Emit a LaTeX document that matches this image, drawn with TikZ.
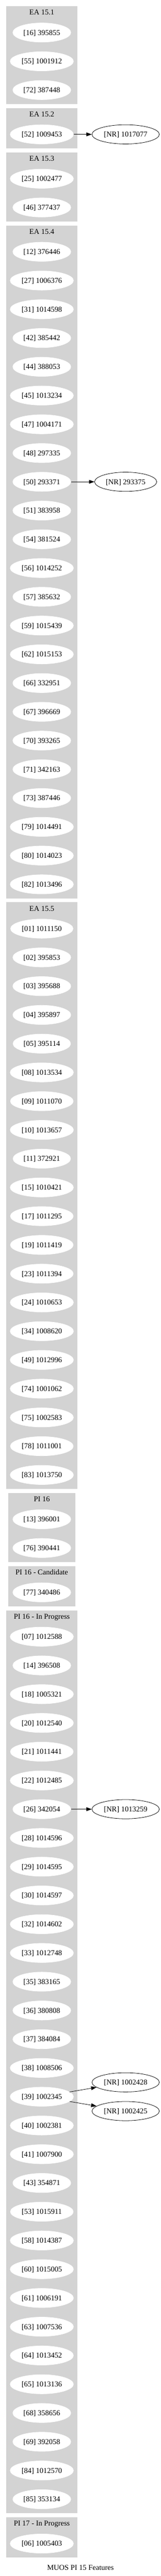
\documentclass[tikz,border=0pt]{standalone}
\usepackage{fontspec}
\setmainfont{Liberation Serif}
\usetikzlibrary{shapes.geometric,arrows.meta}
\definecolor{clustergray}{RGB}{211,211,211}
\begin{document}
\begin{tikzpicture}[x=0.75pt,y=-0.74967pt,
  clusterbg/.style={fill=clustergray},
  clusterlabel/.style={font=\fontsize{14pt}{16pt}\selectfont,text height=9.4pt,text depth=0pt,inner sep=0pt},
  feat/.style={ellipse,fill=white,draw=white,line width=0.75pt,font=\fontsize{14pt}{16pt}\selectfont,text height=9.4pt,text depth=0pt,inner xsep=4pt,inner ysep=0pt,minimum height=36pt},
  nrnode/.style={feat,fill=none,draw=black},
  link/.style={draw=black,line width=0.75pt,-{Triangle[length=10pt,width=7pt]}}]

\path[use as bounding box,fill=white] (0,0) rectangle (402,6450.8);

% EA 15.1
\fill[clusterbg] (15,15.5) rectangle (194,260.5);
\node[clusterlabel] (l151) at (104.5,31) {EA 15.1};
\foreach \id/\num [count=\k from 0] in {16/395855,55/1001912,72/387448}
  \node[feat] (n\id) at (104.5,{81.5+72*\k}) {[\id] \num};

% EA 15.2
\fill[clusterbg] (15,270.5) rectangle (194,371.5);
\node[clusterlabel] (l152) at (104.5,286) {EA 15.2};
\node[feat] (n52) at (104.5,336.5) {[52] 1009453};

% EA 15.3
\fill[clusterbg] (15,381.5) rectangle (194,554.5);
\node[clusterlabel] (l153) at (104.5,397) {EA 15.3};
\foreach \id/\num [count=\k from 0] in {25/1002477,46/377437}
  \node[feat] (n\id) at (104.5,{447.5+72*\k}) {[\id] \num};

% EA 15.4
\fill[clusterbg] (15,564.5) rectangle (194,2249.5);
\node[clusterlabel] (l154) at (104.5,580) {EA 15.4};
\foreach \id/\num [count=\k from 0] in {12/376446,27/1006376,31/1014598,42/385442,44/388053,45/1013234,47/1004171,48/297335,50/293371,51/383958,54/381524,56/1014252,57/385632,59/1015439,62/1015153,66/332951,67/396669,70/393265,71/342163,73/387446,79/1014491,80/1014023,82/1013496}
  \node[feat] (n\id) at (104.5,{630.5+72*\k}) {[\id] \num};

% EA 15.5
\fill[clusterbg] (15,2259.5) rectangle (194,3728.5);
\node[clusterlabel] (l155) at (104.5,2275) {EA 15.5};
\foreach \id/\num [count=\k from 0] in {01/1011150,02/395853,03/395688,04/395897,05/395114,08/1013534,09/1011070,10/1013657,11/372921,15/1010421,17/1011295,19/1011419,23/1011394,24/1010653,34/1008620,49/1012996,74/1001062,75/1002583,78/1011001,83/1013750}
  \node[feat] (n\id) at (104.5,{2325.5+72*\k}) {[\id] \num};

% PI 16
\fill[clusterbg] (21,3738.5) rectangle (188,3911.5);
\node[clusterlabel] (lpi16) at (104.5,3754) {PI 16};
\foreach \id/\num [count=\k from 0] in {13/396001,76/390441}
  \node[feat] (n\id) at (104.5,{3804.5+72*\k}) {[\id] \num};

% PI 16 - Candidate
\fill[clusterbg] (21,3921.5) rectangle (188,4022.5);
\node[clusterlabel] (lpi16c) at (104.5,3937) {PI 16 - Candidate};
\node[feat] (n77) at (104.5,3987.5) {[77] 340486};

% PI 16 - In Progress
\fill[clusterbg] (15,4032.5) rectangle (194,6293.5);
\node[clusterlabel] (lpi16p) at (104.5,4048) {PI 16 - In Progress};
\foreach \id/\num [count=\k from 0] in {07/1012588,14/396508,18/1005321,20/1012540,21/1011441,22/1012485,26/342054,28/1014596,29/1014595,30/1014597,32/1014602,33/1012748,35/383165,36/380808,37/384084,38/1008506,39/1002345,40/1002381,41/1007900,43/354871,53/1015911,58/1014387,60/1015005,61/1006191,63/1007536,64/1013452,65/1013136,68/358656,69/392058,84/1012570,85/353134}
  \node[feat] (n\id) at (104.5,{4098.5+72*\k}) {[\id] \num};

% PI 17 - In Progress
\fill[clusterbg] (15,6303.5) rectangle (194,6404.5);
\node[clusterlabel] (lpi17p) at (104.5,6319) {PI 17 - In Progress};
\node[feat] (n06) at (104.5,6369.5) {[06] 1005403};

% not released nodes
\node[nrnode] (nr1017077) at (314,336.5) {[NR] 1017077};
\node[nrnode] (nr293375) at (314,1206.5) {[NR] 293375};
\node[nrnode] (nr1013259) at (314,4530.5) {[NR] 1013259};
\node[nrnode] (nr1002428) at (314,5214.5) {[NR] 1002428};
\node[nrnode] (nr1002425) at (314,5286.5) {[NR] 1002425};

\draw[link] (n52) -- (nr1017077);
\draw[link] (n50) -- (nr293375);
\draw[link] (n26) -- (nr1013259);
\draw[link] (n39) -- (nr1002428);
\draw[link] (n39) -- (nr1002425);

% caption
\node[clusterlabel] (caption) at (201,6429.5) {MUOS PI 15 Features};
\end{tikzpicture}
\end{document}
